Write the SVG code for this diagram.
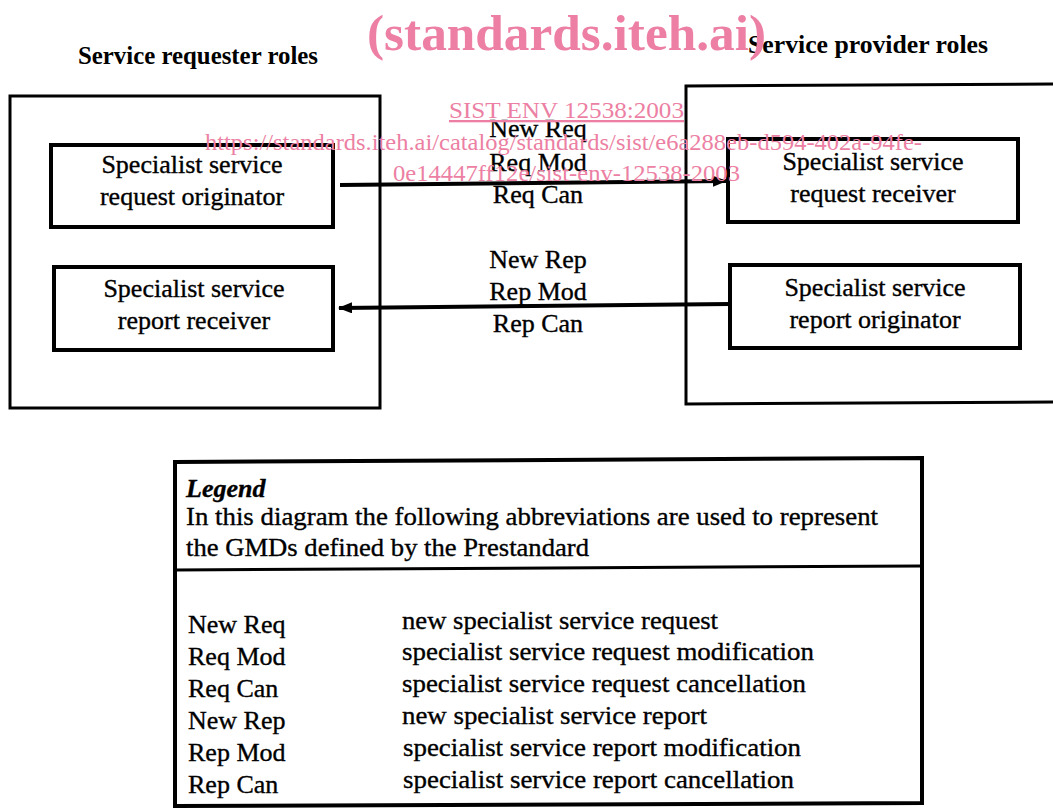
<svg xmlns="http://www.w3.org/2000/svg" width="1053" height="808" viewBox="0 0 1053 808">
<defs>
<style>
.t{font-family:"Liberation Serif","Times New Roman",serif;font-size:26px;fill:#000;stroke:#000;stroke-width:0.35}
.c{text-anchor:middle}
.h{font-family:"Liberation Serif","Times New Roman",serif;font-size:25px;font-weight:bold;fill:#000}
.outer{fill:none;stroke:#000;stroke-width:3}
.inner{fill:#fff;stroke:#000;stroke-width:4}
.wm{font-family:"Liberation Serif","Times New Roman",serif;fill:#ec7fa3}
.conn{stroke:#000;stroke-width:4;fill:none}
</style>
<marker id="ah" markerWidth="14" markerHeight="11" refX="13" refY="5.5" orient="auto" markerUnits="userSpaceOnUse">
<path d="M0,0 L14,5.5 L0,11 Z" fill="#000"/>
</marker>
</defs>
<rect width="1053" height="808" fill="#fff"/>

<g id="requester-roles">
<text class="h" x="78" y="64" textLength="240" lengthAdjust="spacingAndGlyphs">Service requester roles</text>
<rect class="outer" x="10" y="96" width="370" height="312"/>
</g>
<g id="provider-roles">
<text class="h" x="748" y="53" textLength="240" lengthAdjust="spacingAndGlyphs">Service provider roles</text>
<path class="outer" d="M1055,84 L686,86 L686,404 L1055,402"/>
</g>

<g id="request-originator">
<rect class="inner" x="51" y="145" width="282" height="82"/>
<text class="t c" x="192" y="173">Specialist service</text>
<text class="t c" x="192" y="205">request originator</text>
</g>
<g id="report-receiver">
<rect class="inner" x="54" y="267" width="279" height="83"/>
<text class="t c" x="194" y="297">Specialist service</text>
<text class="t c" x="194" y="329">report receiver</text>
</g>
<g id="request-receiver">
<rect class="inner" x="728" y="139" width="290" height="83"/>
<text class="t c" x="873" y="170">Specialist service</text>
<text class="t c" x="873" y="202">request receiver</text>
</g>
<g id="report-originator">
<rect class="inner" x="730" y="265" width="290" height="83"/>
<text class="t c" x="875" y="296">Specialist service</text>
<text class="t c" x="875" y="328">report originator</text>
</g>

<g id="connectors">
<line class="conn" x1="340" y1="185" x2="726" y2="181" marker-end="url(#ah)"/>
<line class="conn" x1="730" y1="304" x2="339" y2="308" marker-end="url(#ah)"/>
<text class="t c" x="538" y="137">New Req</text>
<text class="t c" x="538" y="171">Req Mod</text>
<text class="t c" x="538" y="203">Req Can</text>
<text class="t c" x="538" y="268">New Rep</text>
<text class="t c" x="538" y="300">Rep Mod</text>
<text class="t c" x="538" y="332">Rep Can</text>
</g>

<g id="legend">
<path d="M175,462 L922,458 L922,803 L175,806 Z" fill="none" stroke="#000" stroke-width="4"/>
<line x1="175" y1="570" x2="922" y2="566" stroke="#000" stroke-width="3"/>
<text class="t" x="186" y="497" font-style="italic" font-weight="bold" font-size="24">Legend</text>
<text class="t" x="186" y="525" textLength="692" lengthAdjust="spacingAndGlyphs">In this diagram the following abbreviations are used to represent</text>
<text class="t" x="186" y="556" textLength="403" lengthAdjust="spacingAndGlyphs">the GMDs defined by the Prestandard</text>
<text class="t" x="188" y="633">New Req</text>
<text class="t" x="188" y="665">Req Mod</text>
<text class="t" x="188" y="697">Req Can</text>
<text class="t" x="188" y="729">New Rep</text>
<text class="t" x="188" y="761">Rep Mod</text>
<text class="t" x="188" y="793">Rep Can</text>
<text class="t" x="402" y="629" textLength="316" lengthAdjust="spacingAndGlyphs">new specialist service request</text>
<text class="t" x="402" y="660" textLength="412" lengthAdjust="spacingAndGlyphs">specialist service request modification</text>
<text class="t" x="402" y="692" textLength="404" lengthAdjust="spacingAndGlyphs">specialist service request cancellation</text>
<text class="t" x="402" y="724" textLength="305" lengthAdjust="spacingAndGlyphs">new specialist service report</text>
<text class="t" x="403" y="756" textLength="398" lengthAdjust="spacingAndGlyphs">specialist service report modification</text>
<text class="t" x="403" y="788" textLength="391" lengthAdjust="spacingAndGlyphs">specialist service report cancellation</text>
</g>

<g id="watermark">
<text class="wm" x="367" y="50" font-size="50" font-weight="bold" textLength="399" lengthAdjust="spacingAndGlyphs">(standards.iteh.ai)</text>
<text class="wm" x="449" y="118" font-size="23" text-decoration="underline" textLength="235" lengthAdjust="spacingAndGlyphs">SIST ENV 12538:2003</text>
<text class="wm" x="205" y="150" font-size="23" textLength="717" lengthAdjust="spacingAndGlyphs">https://standards.iteh.ai/catalog/standards/sist/e6a288eb-d594-402a-94fe-</text>
<text class="wm" x="393" y="181" font-size="23" textLength="347" lengthAdjust="spacingAndGlyphs">0e14447ff12e/sist-env-12538-2003</text>
</g>
</svg>
